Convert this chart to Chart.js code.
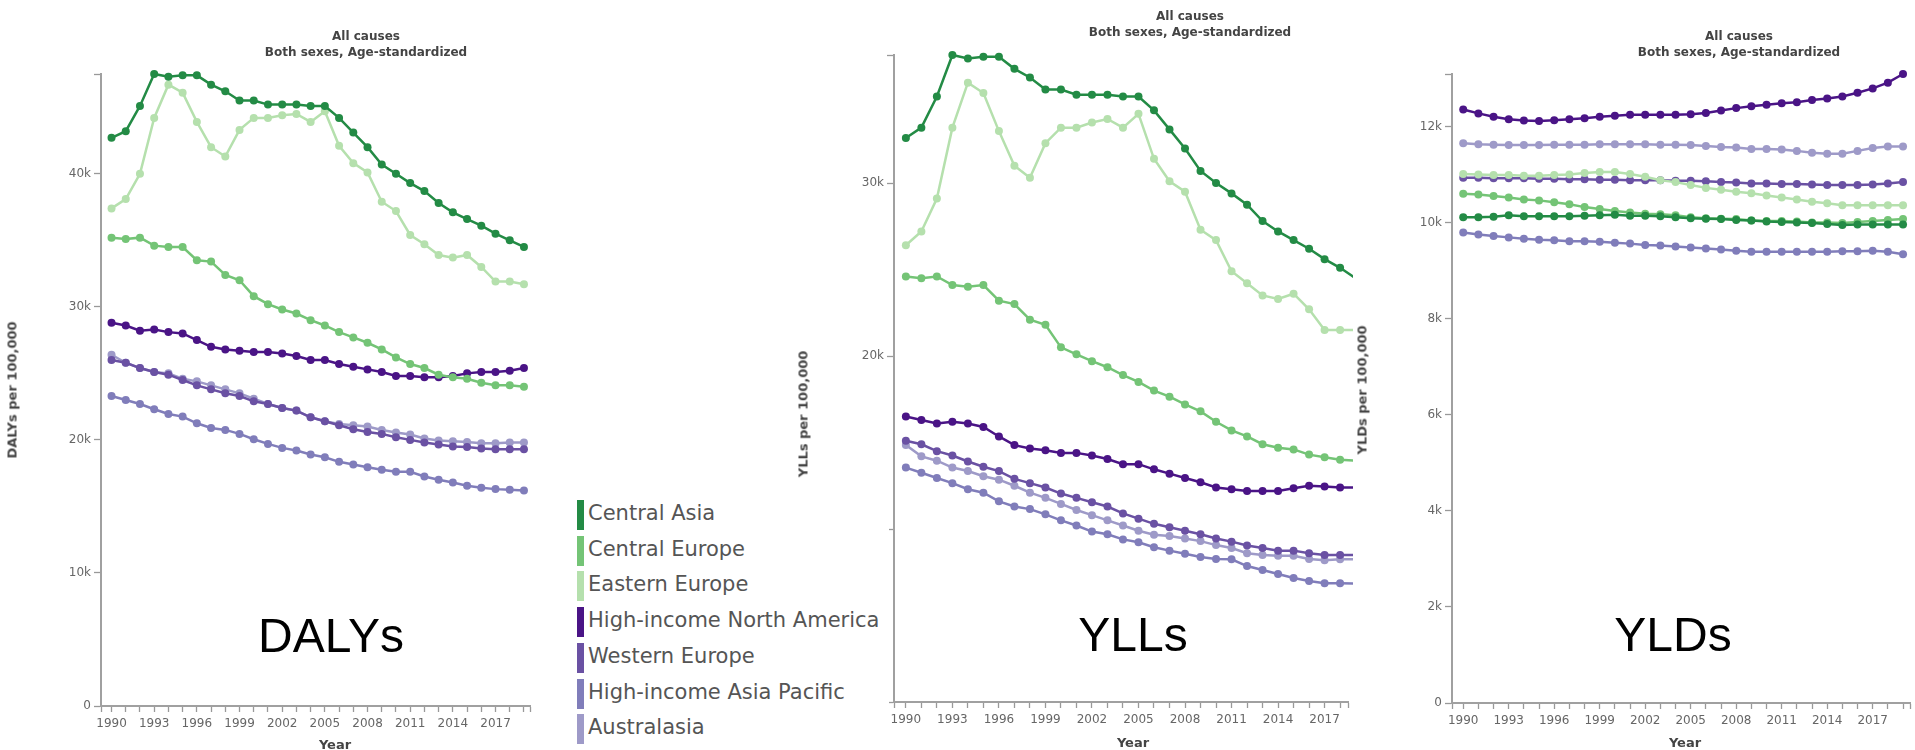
<!DOCTYPE html>
<html>
<head>
<meta charset="utf-8">
<title>All causes, Both sexes, Age-standardized</title>
<script src="https://cdn.jsdelivr.net/npm/chart.js@4.4.1/dist/chart.umd.min.js"></script>
<style>
  html, body { margin: 0; padding: 0; background: #fff; }
  body { width: 1915px; height: 750px; position: relative; overflow: hidden; font-family: "DejaVu Sans", Verdana, sans-serif; }
  canvas { position: absolute; top: 0; }
  .ptitle { position: absolute; font: bold 12px "DejaVu Sans", sans-serif; color: #444; line-height: 16px; text-align: center; white-space: nowrap; transform: translateX(-50%); }
  .atitle { position: absolute; font: bold 13px "DejaVu Sans", sans-serif; color: #444; white-space: nowrap; line-height: 15px; }
  .vtitle { transform: translate(-50%, -50%) rotate(-90deg); }
  .htitle { transform: translate(-50%, -50%); }
  .big { position: absolute; font: 48px "Liberation Sans", Arial, sans-serif; color: #000; line-height: 48px; white-space: nowrap; transform: translateX(-50%); }
  #legend { position: absolute; left: 560px; top: 490px; width: 329px; height: 260px; background: #fff; }
  #legend .sw { position: absolute; left: 17px; width: 7px; height: 30px; }
  #legend .lb { position: absolute; left: 28px; height: 30px; line-height: 30px; font: 21px "DejaVu Sans", sans-serif; color: #555; white-space: nowrap; padding-top: 1px; }
</style>
</head>
<body>
<canvas id="dalys" width="575" height="750" style="left:0px"></canvas>
<canvas id="ylls" width="573" height="750" style="left:780px"></canvas>
<canvas id="ylds" width="575" height="750" style="left:1340px"></canvas>

<div id="legend"></div>

<div class="ptitle" style="left:366px;top:28px">All causes<br>Both sexes, Age-standardized</div>
<div class="ptitle" style="left:1190px;top:8px">All causes<br>Both sexes, Age-standardized</div>
<div class="ptitle" style="left:1739px;top:28px">All causes<br>Both sexes, Age-standardized</div>

<div class="atitle vtitle" style="left:12px;top:390px">DALYs per 100,000</div>
<div class="atitle vtitle" style="left:803px;top:414px">YLLs per 100,000</div>
<div class="atitle vtitle" style="left:1362px;top:390px">YLDs per 100,000</div>

<div class="atitle htitle" style="left:335px;top:744px">Year</div>
<div class="atitle htitle" style="left:1133px;top:742px">Year</div>
<div class="atitle htitle" style="left:1685px;top:742px">Year</div>

<div class="big" style="left:331px;top:612px">DALYs</div>
<div class="big" style="left:1133px;top:611px">YLLs</div>
<div class="big" style="left:1673px;top:611px">YLDs</div>

<script>
// Years on the horizontal axis
const years = [1990, 1991, 1992, 1993, 1994, 1995, 1996, 1997, 1998, 1999,
               2000, 2001, 2002, 2003, 2004, 2005, 2006, 2007, 2008, 2009,
               2010, 2011, 2012, 2013, 2014, 2015, 2016, 2017, 2018, 2019];

const regions = ['Central Asia', 'Central Europe', 'Eastern Europe', 'High-income North America',
                 'Western Europe', 'High-income Asia Pacific', 'Australasia'];
const regionColors = ['#238b45', '#74c476', '#b5e0ad', '#4a1486', '#6a51a3', '#807dba', '#9e9ac8'];

// DALYs per 100,000 (age-standardized)
const dalysCentralAsia   = [42700, 43200, 45100, 47500, 47300, 47400, 47400, 46700, 46200, 45500, 45500, 45200, 45200, 45200, 45100, 45100, 44200, 43100, 42000, 40700, 40000, 39300, 38700, 37800, 37100, 36600, 36100, 35500, 35000, 34500];
const dalysCentralEurope = [35200, 35100, 35200, 34600, 34500, 34500, 33500, 33400, 32400, 32000, 30800, 30200, 29800, 29500, 29000, 28600, 28100, 27700, 27300, 26800, 26200, 25700, 25400, 24900, 24700, 24600, 24300, 24100, 24100, 24000];
const dalysEasternEurope = [37400, 38100, 40000, 44200, 46700, 46100, 43900, 42000, 41300, 43300, 44200, 44200, 44400, 44500, 43900, 44700, 42100, 40800, 40100, 37900, 37200, 35400, 34700, 33900, 33700, 33900, 33000, 31900, 31900, 31700];
const dalysNorthAmerica  = [28800, 28600, 28200, 28300, 28100, 28000, 27500, 27000, 26800, 26700, 26600, 26600, 26500, 26300, 26000, 26000, 25700, 25500, 25300, 25100, 24800, 24800, 24700, 24700, 24800, 25000, 25100, 25100, 25200, 25400];
const dalysWesternEurope = [26000, 25800, 25400, 25100, 24900, 24500, 24100, 23800, 23500, 23300, 22900, 22700, 22400, 22200, 21700, 21400, 21100, 20800, 20600, 20450, 20200, 20000, 19800, 19650, 19500, 19470, 19350, 19300, 19300, 19300];
const dalysAsiaPacific   = [23300, 23000, 22700, 22300, 21950, 21750, 21250, 20900, 20750, 20450, 20050, 19700, 19400, 19200, 18900, 18700, 18350, 18150, 17950, 17750, 17600, 17600, 17250, 17000, 16800, 16550, 16400, 16300, 16250, 16200];
const dalysAustralasia   = [26400, 25800, 25400, 25100, 25000, 24600, 24400, 24100, 23800, 23500, 23100, 22700, 22400, 22200, 21700, 21400, 21200, 21100, 21000, 20750, 20550, 20400, 20100, 19950, 19900, 19850, 19750, 19750, 19800, 19800];

// YLLs per 100,000 (age-standardized)
const yllsCentralAsia   = [32600, 33200, 35000, 37400, 37200, 37300, 37300, 36600, 36100, 35400, 35400, 35100, 35100, 35100, 35000, 35000, 34200, 33100, 32000, 30700, 30000, 29400, 28750, 27800, 27200, 26700, 26200, 25600, 25100, 24500];
const yllsCentralEurope = [24600, 24500, 24600, 24100, 24000, 24100, 23200, 23000, 22100, 21800, 20500, 20100, 19700, 19350, 18900, 18500, 18000, 17650, 17200, 16800, 16200, 15700, 15350, 14900, 14700, 14600, 14300, 14150, 14000, 13950];
const yllsEasternEurope = [26400, 27200, 29100, 33200, 35800, 35200, 33000, 31000, 30300, 32300, 33200, 33200, 33500, 33700, 33200, 34000, 31400, 30100, 29500, 27300, 26700, 24900, 24200, 23500, 23300, 23600, 22700, 21500, 21500, 21500];
const yllsNorthAmerica  = [16500, 16300, 16100, 16200, 16100, 15900, 15350, 14850, 14650, 14550, 14400, 14400, 14250, 14050, 13750, 13750, 13450, 13200, 12950, 12700, 12400, 12300, 12200, 12200, 12200, 12350, 12500, 12450, 12400, 12400];
const yllsWesternEurope = [15100, 14900, 14500, 14250, 13900, 13600, 13350, 12900, 12650, 12400, 12050, 11800, 11550, 11300, 10900, 10600, 10300, 10100, 9900, 9700, 9450, 9270, 9050, 8900, 8750, 8750, 8600, 8500, 8500, 8500];
const yllsAsiaPacific   = [13550, 13250, 12950, 12650, 12300, 12100, 11600, 11300, 11150, 10850, 10500, 10200, 9850, 9700, 9400, 9230, 8950, 8750, 8570, 8380, 8270, 8250, 7860, 7630, 7400, 7170, 7000, 6860, 6860, 6850];
const yllsAustralasia   = [14850, 14200, 13950, 13550, 13350, 13050, 12850, 12500, 12100, 11800, 11450, 11100, 10800, 10500, 10200, 9900, 9670, 9600, 9450, 9300, 9070, 8900, 8600, 8500, 8450, 8450, 8270, 8200, 8250, 8250];

// YLDs per 100,000 (age-standardized)
const yldsCentralAsia   = [10110, 10110, 10120, 10150, 10130, 10130, 10130, 10130, 10140, 10150, 10160, 10140, 10140, 10130, 10110, 10090, 10080, 10070, 10050, 10040, 10020, 10010, 10000, 9990, 9970, 9950, 9960, 9960, 9960, 9960];
const yldsCentralEurope = [10600, 10580, 10550, 10520, 10480, 10460, 10420, 10380, 10320, 10280, 10240, 10210, 10180, 10170, 10150, 10110, 10090, 10080, 10070, 10040, 10030, 10030, 10020, 10000, 10000, 9990, 10010, 10030, 10050, 10070];
const yldsEasternEurope = [11010, 11000, 10990, 10990, 10970, 10970, 10990, 11000, 11030, 11050, 11050, 11010, 10950, 10880, 10840, 10780, 10720, 10680, 10640, 10610, 10560, 10520, 10480, 10430, 10400, 10360, 10360, 10360, 10360, 10360];
const yldsNorthAmerica  = [12350, 12270, 12200, 12150, 12120, 12110, 12130, 12150, 12170, 12200, 12220, 12240, 12240, 12240, 12240, 12250, 12280, 12330, 12380, 12420, 12450, 12480, 12500, 12550, 12580, 12620, 12700, 12790, 12910, 13090];
const yldsWesternEurope = [10930, 10930, 10920, 10920, 10920, 10910, 10910, 10900, 10900, 10890, 10890, 10880, 10880, 10880, 10870, 10870, 10860, 10840, 10830, 10810, 10810, 10800, 10800, 10790, 10780, 10780, 10780, 10790, 10810, 10840];
const yldsAsiaPacific   = [9790, 9750, 9720, 9690, 9660, 9640, 9630, 9610, 9610, 9600, 9580, 9560, 9530, 9520, 9500, 9480, 9460, 9440, 9410, 9390, 9390, 9390, 9390, 9390, 9390, 9400, 9400, 9410, 9390, 9340];
const yldsAustralasia   = [11650, 11630, 11620, 11610, 11610, 11610, 11620, 11620, 11620, 11630, 11630, 11630, 11630, 11620, 11620, 11610, 11590, 11570, 11560, 11530, 11530, 11520, 11490, 11450, 11430, 11430, 11490, 11550, 11580, 11580];

// Y-axis tick values for each panel
const dalysTicks = [0, 10000, 20000, 30000, 40000];
const yllsTicks  = [0, 10000, 20000, 30000];
const yldsTicks  = [0, 2000, 4000, 6000, 8000, 10000, 12000];

// Legend
const legendEl = document.getElementById('legend');
regions.forEach((name, i) => {
  const top = 10 + i * 35.7;
  const sw = document.createElement('div');
  sw.className = 'sw';
  sw.style.top = top + 'px';
  sw.style.background = regionColors[i];
  const lb = document.createElement('div');
  lb.className = 'lb';
  lb.style.top = top + 'px';
  lb.textContent = name;
  legendEl.appendChild(sw);
  legendEl.appendChild(lb);
});

function kLabel(v) {
  return v === 0 ? '0' : (v / 1000) + 'k';
}

function panel(canvasId, series, yTicks, box) {
  const H = 750;
  const W = document.getElementById(canvasId).width;
  const yMax = Math.max(...series.flat());
  const shownYears = years.filter(y => y <= box.xMax);
  const axisFont = { family: 'DejaVu Sans', size: 12 };

  return new Chart(document.getElementById(canvasId), {
    type: 'line',
    data: {
      datasets: regions.map((name, i) => ({
        label: name,
        data: years.map((yr, k) => ({ x: yr, y: series[i][k] })),
        borderColor: regionColors[i],
        backgroundColor: regionColors[i],
        pointBackgroundColor: regionColors[i],
        pointBorderColor: regionColors[i],
        borderWidth: 2.5,
        pointRadius: 4,
        pointHoverRadius: 4,
        pointBorderWidth: 0,
        tension: 0,
        fill: false,
        clip: false
      }))
    },
    options: {
      responsive: false,
      animation: false,
      devicePixelRatio: 1,
      events: [],
      layout: { padding: { left: 0, top: box.top, right: W - box.right, bottom: 0 } },
      plugins: { legend: { display: false }, tooltip: { enabled: false }, title: { display: false } },
      scales: {
        x: {
          type: 'linear',
          min: box.xMin,
          max: box.xMax,
          afterBuildTicks: s => { s.ticks = [box.xMin, ...shownYears, box.xMax].map(v => ({ value: v })); },
          afterFit: s => { s.height = H - box.bottom; },
          ticks: {
            autoSkip: false, maxRotation: 0, minRotation: 0, padding: 5,
            color: '#666', font: axisFont,
            callback: v => (Number.isInteger(v) && (v - 1990) % 3 === 0) ? String(v) : ''
          },
          grid: { display: true, drawOnChartArea: false, drawTicks: true, tickLength: 6, tickColor: '#999', tickWidth: 1.3 },
          border: { display: true, color: '#a0a0a0', width: 2 }
        },
        y: {
          type: 'linear',
          min: 0,
          max: yMax,
          afterBuildTicks: s => { s.ticks = [...yTicks, yMax].map(v => ({ value: v })); },
          afterFit: s => { s.width = box.left; },
          ticks: {
            autoSkip: false, padding: 3, color: '#666', font: axisFont,
            callback: v => yTicks.includes(v) ? kLabel(v) : ''
          },
          grid: { display: true, drawOnChartArea: false, drawTicks: true, tickLength: 7, tickColor: '#999', tickWidth: 1.3 },
          border: { display: true, color: '#a0a0a0', width: 2 }
        }
      }
    }
  });
}

panel('dalys',
  [dalysCentralAsia, dalysCentralEurope, dalysEasternEurope, dalysNorthAmerica, dalysWesternEurope, dalysAsiaPacific, dalysAustralasia],
  dalysTicks,
  { left: 101, top: 74, bottom: 706, right: 530.5, xMin: 1989.26, xMax: 2019.46 });

panel('ylls',
  [yllsCentralAsia, yllsCentralEurope, yllsEasternEurope, yllsNorthAmerica, yllsWesternEurope, yllsAsiaPacific, yllsAustralasia],
  yllsTicks,
  { left: 114, top: 55, bottom: 702, right: 573, xMin: 1989.235, xMax: 2018.51 });

panel('ylds',
  [yldsCentralAsia, yldsCentralEurope, yldsEasternEurope, yldsNorthAmerica, yldsWesternEurope, yldsAsiaPacific, yldsAustralasia],
  yldsTicks,
  { left: 112, top: 74, bottom: 703, right: 573, xMin: 1989.26, xMax: 2019.46 });
</script>
</body>
</html>
